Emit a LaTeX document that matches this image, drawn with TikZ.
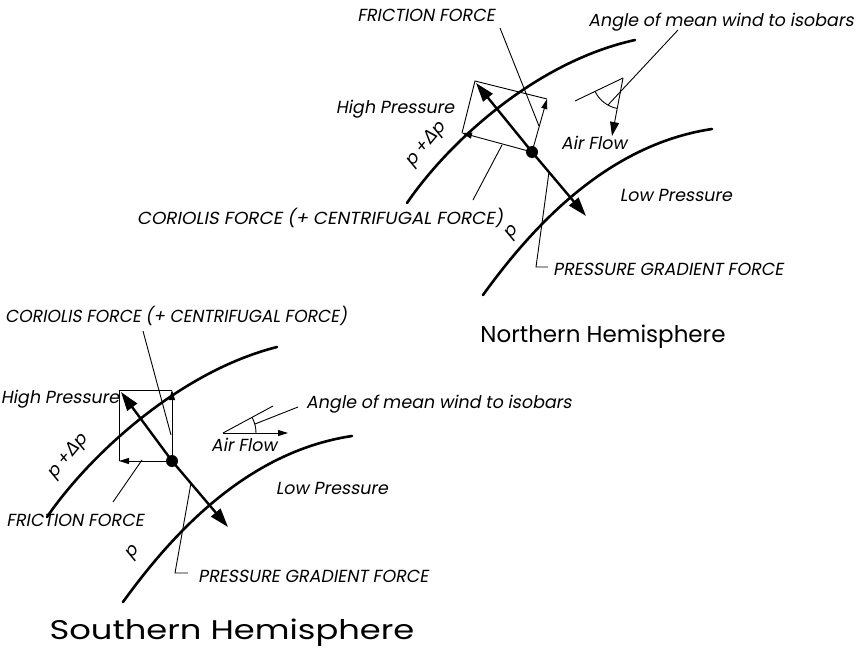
\documentclass[tikz,border=0pt]{standalone}
\usepackage{graphicx}
\usepackage{fontspec}
\setmainfont{Poppins}
\newfontfamily\labfont[FakeSlant=0.18]{Poppins}
\newfontfamily\grkfont[FakeSlant=0.18]{DejaVu Sans}
\usetikzlibrary{arrows.meta}
\begin{document}
\begin{tikzpicture}[x=1pt,y=-1pt,
  isobar/.style={line width=2.6pt, line cap=round},
  force/.style={line width=2.4pt, -{Triangle[length=19pt,width=12pt]}},
  thinarrow/.style={line width=0.9pt, -{Triangle[length=10pt,width=6pt]}},
  flowarrow/.style={line width=0.9pt, -{Triangle[length=14pt,width=9pt]}},
  thinline/.style={line width=0.9pt},
  lab/.style={inner sep=0pt, font=\labfont\fontsize{17.5}{20}\selectfont},
  title/.style={inner sep=0pt},
  dotnode/.style={circle, fill, inner sep=0pt, minimum size=12pt}]
\useasboundingbox (0,0) rectangle (860,656);

% ================= Northern Hemisphere =================
\draw[isobar] (407,203) .. controls (448,143) and (535,62) .. (635,40);
\draw[isobar] (483,295) .. controls (530,230) and (605,145) .. (712,129);

\coordinate (nd) at (532,152);
\coordinate (ntl) at (476,83);
\coordinate (nbr) at (586,216);
\coordinate (ncor) at (462,133);
\coordinate (nfr) at (547,99);
\coordinate (nco) at (475,81);

\draw[thinline] (ncor) -- (nco) -- (nfr);
\draw[thinarrow] (nd) -- (ncor);
\draw[thinarrow] (nd) -- (nfr);
\draw[force] (nd) -- (ntl);
\draw[force] (nd) -- (nbr);
\node[dotnode] (ndot) at (nd) {};

% angle indicator
\coordinate (nv) at (623,78);
\coordinate (nisob) at (575,101);
\coordinate (nflow) at (612,136);
\draw[thinline] (nisob) -- (nv);
\draw[flowarrow] (nv) -- (nflow);
\draw[thinline] (nv) ++(154.4:31) arc[start angle=154.4, end angle=100.9, radius=31];

% labels
\node[lab] (nfric) at (426,15) {FRICTION FORCE};
\node[lab] (nangle) at (721,22) {Angle of mean wind to isobars};
\node[lab] (nhigh) at (395,109) {High Pressure};
\node[lab] (nair) at (594,143) {Air Flow};
\node[lab] (nlow) at (676,195) {Low Pressure};
\node[lab] (ncorl) at (320,218) {\scalebox{1.05}[1]{CORIOLIS FORCE (+ CENTRIFUGAL FORCE)}};
\node[lab, rotate=50] (np) at (512,233) {p};
\node[lab, rotate=50] (npdp) at (426,145) {p +{\grkfont Δ}p};
\node[lab, anchor=west] (npgf) at (553,269) {PRESSURE GRADIENT FORCE};
\node[title, font=\fontsize{23}{27}\selectfont] (nhem) at (603,337) {Northern Hemisphere};

% leaders
\coordinate (lf1) at (500,28);  \coordinate (lf2) at (539,126);
\draw[thinline] (lf1) -- (lf2);
\coordinate (lc1) at (473,200); \coordinate (lc2) at (502,145);
\draw[thinline] (lc1) -- (lc2);
\coordinate (lp1) at (549,172); \coordinate (lp2) at (536,267); \coordinate (lp3) at (548,267);
\draw[thinline] (lp1) -- (lp2) -- (lp3);
\coordinate (la1) at (678,30); \coordinate (la2) at (608,105);
\draw[thinline] (la1) -- (la2);

% ================= Southern Hemisphere =================
\draw[isobar] (47,517) .. controls (88,457) and (178,372) .. (277,347);
\draw[isobar] (123,602) .. controls (170,537) and (245,452) .. (352,436);

\coordinate (sd) at (172,461);
\coordinate (stl) at (121,392);
\coordinate (sbr) at (228,527);
\coordinate (sfr) at (119,461);
\coordinate (scor) at (172,390);
\coordinate (sco) at (119,390);

\draw[thinline] (sfr) -- (sco) -- (scor);
\draw[thinarrow] (sd) -- (sfr);
\draw[thinarrow] (sd) -- (scor);
\draw[force] (sd) -- (stl);
\draw[force] (sd) -- (sbr);
\node[dotnode] (sdot) at (sd) {};

% angle indicator
\coordinate (sv) at (223,433);
\coordinate (sisob) at (273,406);
\coordinate (sflow) at (288,433);
\draw[thinline] (sv) -- (sisob);
\draw[thinarrow] (sv) -- (sflow);
\draw[thinline] (sv) ++(-28.4:33) arc[start angle=-28.4, end angle=0, radius=33];

% labels
\node[lab, anchor=west] (scorl) at (5,316) {\scalebox{0.98}[1]{CORIOLIS FORCE (+ CENTRIFUGAL FORCE)}};
\node[lab] (shigh) at (60,399) {High Pressure};
\node[lab, anchor=west] (sangle) at (306,404) {Angle of mean wind to isobars};
\node[lab] (sair) at (244,445) {Air Flow};
\node[lab, rotate=50] (spdp) at (68,457) {p +{\grkfont Δ}p};
\node[lab] (slow) at (332,488) {Low Pressure};
\node[lab] (sfric) at (75,520) {FRICTION FORCE};
\node[lab, rotate=50] (sp) at (133,553) {p};
\node[lab, anchor=west] (spgf) at (198,576) {PRESSURE GRADIENT FORCE};
\node[title, font=\fontsize{27}{31}\selectfont] (shem) at (232,633) {\scalebox{1.25}[1]{Southern Hemisphere}};

% leaders
\coordinate (sc1) at (143,331); \coordinate (sc2) at (171,435);
\draw[thinline] (sc1) -- (sc2);
\coordinate (sf1) at (142,460); \coordinate (sf2) at (113,502);
\draw[thinline] (sf1) -- (sf2);
\coordinate (sp1) at (191,483); \coordinate (sp2) at (175,573); \coordinate (sp3) at (188,573);
\draw[thinline] (sp1) -- (sp2) -- (sp3);
\coordinate (sa1) at (298,407); \coordinate (sa2) at (255,424);
\draw[thinline] (sa1) -- (sa2);
\end{tikzpicture}
\end{document}
